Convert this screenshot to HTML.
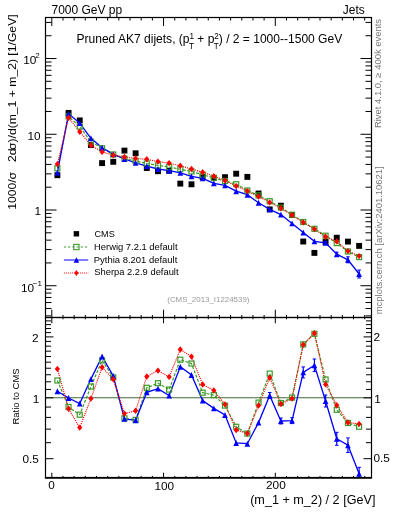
<!DOCTYPE html>
<html><head><meta charset="utf-8"><style>
html,body{margin:0;padding:0;background:#fff;width:393px;height:512px;overflow:hidden}
svg{display:block;will-change:transform}
text{font-family:"Liberation Sans",sans-serif}
</style></head><body>
<svg width="393" height="512" viewBox="0 0 393 512">
<rect width="393" height="512" fill="#fff"/>
<defs><clipPath id="cm"><rect x="45.5" y="17.5" width="326.0" height="300.0"/></clipPath><clipPath id="cr"><rect x="45.5" y="317.5" width="326.0" height="160.0"/></clipPath></defs>
<g clip-path="url(#cm)">
<rect x="54.44" y="172.25" width="5.90" height="5.90" fill="#000"/>
<rect x="65.61" y="109.95" width="5.90" height="5.90" fill="#000"/>
<rect x="76.79" y="117.45" width="5.90" height="5.90" fill="#000"/>
<rect x="87.96" y="142.05" width="5.90" height="5.90" fill="#000"/>
<rect x="99.14" y="160.15" width="5.90" height="5.90" fill="#000"/>
<rect x="110.31" y="158.85" width="5.90" height="5.90" fill="#000"/>
<rect x="121.49" y="147.65" width="5.90" height="5.90" fill="#000"/>
<rect x="132.66" y="150.35" width="5.90" height="5.90" fill="#000"/>
<rect x="143.84" y="165.05" width="5.90" height="5.90" fill="#000"/>
<rect x="155.01" y="168.25" width="5.90" height="5.90" fill="#000"/>
<rect x="166.19" y="167.75" width="5.90" height="5.90" fill="#000"/>
<rect x="177.36" y="180.65" width="5.90" height="5.90" fill="#000"/>
<rect x="188.54" y="181.35" width="5.90" height="5.90" fill="#000"/>
<rect x="199.71" y="174.05" width="5.90" height="5.90" fill="#000"/>
<rect x="210.89" y="174.85" width="5.90" height="5.90" fill="#000"/>
<rect x="222.06" y="174.25" width="5.90" height="5.90" fill="#000"/>
<rect x="233.24" y="170.75" width="5.90" height="5.90" fill="#000"/>
<rect x="244.41" y="173.95" width="5.90" height="5.90" fill="#000"/>
<rect x="255.59" y="190.55" width="5.90" height="5.90" fill="#000"/>
<rect x="266.76" y="206.45" width="5.90" height="5.90" fill="#000"/>
<rect x="277.94" y="202.75" width="5.90" height="5.90" fill="#000"/>
<rect x="289.11" y="212.05" width="5.90" height="5.90" fill="#000"/>
<rect x="300.29" y="238.55" width="5.90" height="5.90" fill="#000"/>
<rect x="311.46" y="249.95" width="5.90" height="5.90" fill="#000"/>
<rect x="322.64" y="239.05" width="5.90" height="5.90" fill="#000"/>
<rect x="333.81" y="234.75" width="5.90" height="5.90" fill="#000"/>
<rect x="344.99" y="238.65" width="5.90" height="5.90" fill="#000"/>
<rect x="356.16" y="242.95" width="5.90" height="5.90" fill="#000"/>
</g>
<g clip-path="url(#cm)">
<polyline points="57.39,168.30 68.56,116.40 79.74,126.60 90.91,141.70 102.09,148.30 113.26,154.50 124.44,158.60 135.61,161.00 146.79,163.50 157.96,165.40 169.14,167.10 180.31,169.20 191.49,171.50 202.66,174.70 213.84,178.00 225.01,181.00 236.19,184.20 247.36,190.50 258.54,195.40 269.71,201.20 280.89,207.60 292.06,214.70 303.24,222.00 314.41,228.80 325.59,235.70 336.76,243.10 347.94,251.50 359.11,257.10" fill="none" stroke="#3c9a2a" stroke-width="1.2" stroke-dasharray="3,1.6"/>
<polyline points="57.39,172.60 68.56,113.80 79.74,123.10 90.91,138.30 102.09,147.80 113.26,154.10 124.44,159.00 135.61,162.90 146.79,166.10 157.96,169.00 169.14,170.70 180.31,172.80 191.49,176.40 202.66,178.30 213.84,183.30 225.01,185.40 236.19,191.20 247.36,194.70 258.54,202.80 269.71,209.40 280.89,214.60 292.06,223.40 303.24,232.50 314.41,241.30 325.59,242.90 336.76,254.20 347.94,259.80 359.11,274.00" fill="none" stroke="#0000ff" stroke-width="1.3"/>
<polyline points="57.39,164.10 68.56,117.70 79.74,131.70 90.91,145.30 102.09,151.90 113.26,155.20 124.44,157.00 135.61,158.40 146.79,159.30 157.96,161.60 169.14,163.10 180.31,165.80 191.49,169.00 202.66,172.20 213.84,176.20 225.01,180.60 236.19,186.10 247.36,191.10 258.54,196.50 269.71,202.40 280.89,208.30 292.06,215.10 303.24,222.40 314.41,229.10 325.59,236.80 336.76,241.40 347.94,251.10 359.11,256.10" fill="none" stroke="#ff0000" stroke-width="1.15" stroke-dasharray="1.1,1"/>
<line x1="325.59" y1="241.40" x2="325.59" y2="244.40" stroke="#0000ff" stroke-width="1.2"/>
<line x1="323.79" y1="241.40" x2="327.39" y2="241.40" stroke="#0000ff" stroke-width="1"/>
<line x1="323.79" y1="244.40" x2="327.39" y2="244.40" stroke="#0000ff" stroke-width="1"/>
<line x1="336.76" y1="252.20" x2="336.76" y2="256.20" stroke="#0000ff" stroke-width="1.2"/>
<line x1="334.96" y1="252.20" x2="338.56" y2="252.20" stroke="#0000ff" stroke-width="1"/>
<line x1="334.96" y1="256.20" x2="338.56" y2="256.20" stroke="#0000ff" stroke-width="1"/>
<line x1="347.94" y1="256.80" x2="347.94" y2="262.80" stroke="#0000ff" stroke-width="1.2"/>
<line x1="346.14" y1="256.80" x2="349.74" y2="256.80" stroke="#0000ff" stroke-width="1"/>
<line x1="346.14" y1="262.80" x2="349.74" y2="262.80" stroke="#0000ff" stroke-width="1"/>
<line x1="359.11" y1="270.00" x2="359.11" y2="278.00" stroke="#0000ff" stroke-width="1.2"/>
<line x1="357.31" y1="270.00" x2="360.91" y2="270.00" stroke="#0000ff" stroke-width="1"/>
<line x1="357.31" y1="278.00" x2="360.91" y2="278.00" stroke="#0000ff" stroke-width="1"/>
<rect x="54.89" y="165.80" width="5.00" height="5.00" fill="none" stroke="#3c9a2a" stroke-width="1.2"/>
<rect x="66.06" y="113.90" width="5.00" height="5.00" fill="none" stroke="#3c9a2a" stroke-width="1.2"/>
<rect x="77.24" y="124.10" width="5.00" height="5.00" fill="none" stroke="#3c9a2a" stroke-width="1.2"/>
<rect x="88.41" y="139.20" width="5.00" height="5.00" fill="none" stroke="#3c9a2a" stroke-width="1.2"/>
<rect x="99.59" y="145.80" width="5.00" height="5.00" fill="none" stroke="#3c9a2a" stroke-width="1.2"/>
<rect x="110.76" y="152.00" width="5.00" height="5.00" fill="none" stroke="#3c9a2a" stroke-width="1.2"/>
<rect x="121.94" y="156.10" width="5.00" height="5.00" fill="none" stroke="#3c9a2a" stroke-width="1.2"/>
<rect x="133.11" y="158.50" width="5.00" height="5.00" fill="none" stroke="#3c9a2a" stroke-width="1.2"/>
<rect x="144.29" y="161.00" width="5.00" height="5.00" fill="none" stroke="#3c9a2a" stroke-width="1.2"/>
<rect x="155.46" y="162.90" width="5.00" height="5.00" fill="none" stroke="#3c9a2a" stroke-width="1.2"/>
<rect x="166.64" y="164.60" width="5.00" height="5.00" fill="none" stroke="#3c9a2a" stroke-width="1.2"/>
<rect x="177.81" y="166.70" width="5.00" height="5.00" fill="none" stroke="#3c9a2a" stroke-width="1.2"/>
<rect x="188.99" y="169.00" width="5.00" height="5.00" fill="none" stroke="#3c9a2a" stroke-width="1.2"/>
<rect x="200.16" y="172.20" width="5.00" height="5.00" fill="none" stroke="#3c9a2a" stroke-width="1.2"/>
<rect x="211.34" y="175.50" width="5.00" height="5.00" fill="none" stroke="#3c9a2a" stroke-width="1.2"/>
<rect x="222.51" y="178.50" width="5.00" height="5.00" fill="none" stroke="#3c9a2a" stroke-width="1.2"/>
<rect x="233.69" y="181.70" width="5.00" height="5.00" fill="none" stroke="#3c9a2a" stroke-width="1.2"/>
<rect x="244.86" y="188.00" width="5.00" height="5.00" fill="none" stroke="#3c9a2a" stroke-width="1.2"/>
<rect x="256.04" y="192.90" width="5.00" height="5.00" fill="none" stroke="#3c9a2a" stroke-width="1.2"/>
<rect x="267.21" y="198.70" width="5.00" height="5.00" fill="none" stroke="#3c9a2a" stroke-width="1.2"/>
<rect x="278.39" y="205.10" width="5.00" height="5.00" fill="none" stroke="#3c9a2a" stroke-width="1.2"/>
<rect x="289.56" y="212.20" width="5.00" height="5.00" fill="none" stroke="#3c9a2a" stroke-width="1.2"/>
<rect x="300.74" y="219.50" width="5.00" height="5.00" fill="none" stroke="#3c9a2a" stroke-width="1.2"/>
<rect x="311.91" y="226.30" width="5.00" height="5.00" fill="none" stroke="#3c9a2a" stroke-width="1.2"/>
<rect x="323.09" y="233.20" width="5.00" height="5.00" fill="none" stroke="#3c9a2a" stroke-width="1.2"/>
<rect x="334.26" y="240.60" width="5.00" height="5.00" fill="none" stroke="#3c9a2a" stroke-width="1.2"/>
<rect x="345.44" y="249.00" width="5.00" height="5.00" fill="none" stroke="#3c9a2a" stroke-width="1.2"/>
<rect x="356.61" y="254.60" width="5.00" height="5.00" fill="none" stroke="#3c9a2a" stroke-width="1.2"/>
<polygon points="54.59,175.55 60.19,175.55 57.39,169.65" fill="#0000ff"/>
<polygon points="65.76,116.75 71.36,116.75 68.56,110.85" fill="#0000ff"/>
<polygon points="76.94,126.05 82.54,126.05 79.74,120.15" fill="#0000ff"/>
<polygon points="88.11,141.25 93.71,141.25 90.91,135.35" fill="#0000ff"/>
<polygon points="99.29,150.75 104.89,150.75 102.09,144.85" fill="#0000ff"/>
<polygon points="110.46,157.05 116.06,157.05 113.26,151.15" fill="#0000ff"/>
<polygon points="121.64,161.95 127.24,161.95 124.44,156.05" fill="#0000ff"/>
<polygon points="132.81,165.85 138.41,165.85 135.61,159.95" fill="#0000ff"/>
<polygon points="143.99,169.05 149.59,169.05 146.79,163.15" fill="#0000ff"/>
<polygon points="155.16,171.95 160.76,171.95 157.96,166.05" fill="#0000ff"/>
<polygon points="166.34,173.65 171.94,173.65 169.14,167.75" fill="#0000ff"/>
<polygon points="177.51,175.75 183.11,175.75 180.31,169.85" fill="#0000ff"/>
<polygon points="188.69,179.35 194.29,179.35 191.49,173.45" fill="#0000ff"/>
<polygon points="199.86,181.25 205.46,181.25 202.66,175.35" fill="#0000ff"/>
<polygon points="211.04,186.25 216.64,186.25 213.84,180.35" fill="#0000ff"/>
<polygon points="222.21,188.35 227.81,188.35 225.01,182.45" fill="#0000ff"/>
<polygon points="233.39,194.15 238.99,194.15 236.19,188.25" fill="#0000ff"/>
<polygon points="244.56,197.65 250.16,197.65 247.36,191.75" fill="#0000ff"/>
<polygon points="255.74,205.75 261.34,205.75 258.54,199.85" fill="#0000ff"/>
<polygon points="266.91,212.35 272.51,212.35 269.71,206.45" fill="#0000ff"/>
<polygon points="278.09,217.55 283.69,217.55 280.89,211.65" fill="#0000ff"/>
<polygon points="289.26,226.35 294.86,226.35 292.06,220.45" fill="#0000ff"/>
<polygon points="300.44,235.45 306.04,235.45 303.24,229.55" fill="#0000ff"/>
<polygon points="311.61,244.25 317.21,244.25 314.41,238.35" fill="#0000ff"/>
<polygon points="322.79,245.85 328.39,245.85 325.59,239.95" fill="#0000ff"/>
<polygon points="333.96,257.15 339.56,257.15 336.76,251.25" fill="#0000ff"/>
<polygon points="345.14,262.75 350.74,262.75 347.94,256.85" fill="#0000ff"/>
<polygon points="356.31,276.95 361.91,276.95 359.11,271.05" fill="#0000ff"/>
<polygon points="57.39,160.90 59.99,164.10 57.39,167.30 54.79,164.10" fill="#ff0000"/>
<polygon points="68.56,114.50 71.16,117.70 68.56,120.90 65.96,117.70" fill="#ff0000"/>
<polygon points="79.74,128.50 82.34,131.70 79.74,134.90 77.14,131.70" fill="#ff0000"/>
<polygon points="90.91,142.10 93.51,145.30 90.91,148.50 88.31,145.30" fill="#ff0000"/>
<polygon points="102.09,148.70 104.69,151.90 102.09,155.10 99.49,151.90" fill="#ff0000"/>
<polygon points="113.26,152.00 115.86,155.20 113.26,158.40 110.66,155.20" fill="#ff0000"/>
<polygon points="124.44,153.80 127.04,157.00 124.44,160.20 121.84,157.00" fill="#ff0000"/>
<polygon points="135.61,155.20 138.21,158.40 135.61,161.60 133.01,158.40" fill="#ff0000"/>
<polygon points="146.79,156.10 149.39,159.30 146.79,162.50 144.19,159.30" fill="#ff0000"/>
<polygon points="157.96,158.40 160.56,161.60 157.96,164.80 155.36,161.60" fill="#ff0000"/>
<polygon points="169.14,159.90 171.74,163.10 169.14,166.30 166.54,163.10" fill="#ff0000"/>
<polygon points="180.31,162.60 182.91,165.80 180.31,169.00 177.71,165.80" fill="#ff0000"/>
<polygon points="191.49,165.80 194.09,169.00 191.49,172.20 188.89,169.00" fill="#ff0000"/>
<polygon points="202.66,169.00 205.26,172.20 202.66,175.40 200.06,172.20" fill="#ff0000"/>
<polygon points="213.84,173.00 216.44,176.20 213.84,179.40 211.24,176.20" fill="#ff0000"/>
<polygon points="225.01,177.40 227.61,180.60 225.01,183.80 222.41,180.60" fill="#ff0000"/>
<polygon points="236.19,182.90 238.79,186.10 236.19,189.30 233.59,186.10" fill="#ff0000"/>
<polygon points="247.36,187.90 249.96,191.10 247.36,194.30 244.76,191.10" fill="#ff0000"/>
<polygon points="258.54,193.30 261.14,196.50 258.54,199.70 255.94,196.50" fill="#ff0000"/>
<polygon points="269.71,199.20 272.31,202.40 269.71,205.60 267.11,202.40" fill="#ff0000"/>
<polygon points="280.89,205.10 283.49,208.30 280.89,211.50 278.29,208.30" fill="#ff0000"/>
<polygon points="292.06,211.90 294.66,215.10 292.06,218.30 289.46,215.10" fill="#ff0000"/>
<polygon points="303.24,219.20 305.84,222.40 303.24,225.60 300.64,222.40" fill="#ff0000"/>
<polygon points="314.41,225.90 317.01,229.10 314.41,232.30 311.81,229.10" fill="#ff0000"/>
<polygon points="325.59,233.60 328.19,236.80 325.59,240.00 322.99,236.80" fill="#ff0000"/>
<polygon points="336.76,238.20 339.36,241.40 336.76,244.60 334.16,241.40" fill="#ff0000"/>
<polygon points="347.94,247.90 350.54,251.10 347.94,254.30 345.34,251.10" fill="#ff0000"/>
<polygon points="359.11,252.90 361.71,256.10 359.11,259.30 356.51,256.10" fill="#ff0000"/>
</g>
<line x1="45.5" y1="397.80" x2="371.5" y2="397.80" stroke="#426a36" stroke-width="1.1"/>
<g clip-path="url(#cr)">
<polyline points="57.39,380.50 68.56,407.00 79.74,414.70 90.91,386.50 102.09,360.40 113.26,377.50 124.44,418.30 135.61,419.90 146.79,387.80 157.96,383.20 169.14,389.60 180.31,359.70 191.49,363.50 202.66,392.70 213.84,395.10 225.01,405.60 236.19,426.80 247.36,433.60 258.54,402.60 269.71,373.60 280.89,403.00 292.06,397.60 303.24,344.40 314.41,333.80 325.59,379.50 336.76,409.80 347.94,423.00 359.11,426.70" fill="none" stroke="#3c9a2a" stroke-width="1.2" stroke-dasharray="3,1.6"/>
<polyline points="57.39,391.20 68.56,398.00 79.74,403.50 90.91,379.10 102.09,356.50 113.26,375.90 124.44,418.90 135.61,420.30 146.79,392.30 157.96,388.60 169.14,395.50 180.31,366.70 191.49,375.00 202.66,400.50 213.84,408.40 225.01,415.00 236.19,443.00 247.36,443.70 258.54,422.60 269.71,395.50 280.89,421.00 292.06,420.60 303.24,372.40 314.41,365.30 325.59,401.00 336.76,438.80 347.94,445.20 359.11,473.80" fill="none" stroke="#0000ff" stroke-width="1.3"/>
<polyline points="57.39,368.90 68.56,408.80 79.74,427.60 90.91,398.60 102.09,367.20 113.26,379.20 124.44,413.60 135.61,410.70 146.79,376.50 157.96,370.60 169.14,376.90 180.31,349.50 191.49,356.60 202.66,384.50 213.84,390.40 225.01,404.40 236.19,430.00 247.36,433.50 258.54,405.60 269.71,377.70 280.89,404.00 292.06,398.60 303.24,344.70 314.41,333.20 325.59,384.40 336.76,405.20 347.94,422.50 359.11,423.90" fill="none" stroke="#ff0000" stroke-width="1.15" stroke-dasharray="1.1,1"/>
<line x1="269.71" y1="392.50" x2="269.71" y2="398.50" stroke="#0000ff" stroke-width="1.2"/>
<line x1="267.91" y1="392.50" x2="271.51" y2="392.50" stroke="#0000ff" stroke-width="1"/>
<line x1="267.91" y1="398.50" x2="271.51" y2="398.50" stroke="#0000ff" stroke-width="1"/>
<line x1="280.89" y1="418.00" x2="280.89" y2="424.00" stroke="#0000ff" stroke-width="1.2"/>
<line x1="279.09" y1="418.00" x2="282.69" y2="418.00" stroke="#0000ff" stroke-width="1"/>
<line x1="279.09" y1="424.00" x2="282.69" y2="424.00" stroke="#0000ff" stroke-width="1"/>
<line x1="292.06" y1="417.60" x2="292.06" y2="423.60" stroke="#0000ff" stroke-width="1.2"/>
<line x1="290.26" y1="417.60" x2="293.86" y2="417.60" stroke="#0000ff" stroke-width="1"/>
<line x1="290.26" y1="423.60" x2="293.86" y2="423.60" stroke="#0000ff" stroke-width="1"/>
<line x1="303.24" y1="366.90" x2="303.24" y2="377.90" stroke="#0000ff" stroke-width="1.2"/>
<line x1="301.44" y1="366.90" x2="305.04" y2="366.90" stroke="#0000ff" stroke-width="1"/>
<line x1="301.44" y1="377.90" x2="305.04" y2="377.90" stroke="#0000ff" stroke-width="1"/>
<line x1="314.41" y1="359.00" x2="314.41" y2="371.60" stroke="#0000ff" stroke-width="1.2"/>
<line x1="312.61" y1="359.00" x2="316.21" y2="359.00" stroke="#0000ff" stroke-width="1"/>
<line x1="312.61" y1="371.60" x2="316.21" y2="371.60" stroke="#0000ff" stroke-width="1"/>
<line x1="325.59" y1="395.00" x2="325.59" y2="407.00" stroke="#0000ff" stroke-width="1.2"/>
<line x1="323.79" y1="395.00" x2="327.39" y2="395.00" stroke="#0000ff" stroke-width="1"/>
<line x1="323.79" y1="407.00" x2="327.39" y2="407.00" stroke="#0000ff" stroke-width="1"/>
<line x1="336.76" y1="432.30" x2="336.76" y2="445.30" stroke="#0000ff" stroke-width="1.2"/>
<line x1="334.96" y1="432.30" x2="338.56" y2="432.30" stroke="#0000ff" stroke-width="1"/>
<line x1="334.96" y1="445.30" x2="338.56" y2="445.30" stroke="#0000ff" stroke-width="1"/>
<line x1="347.94" y1="437.90" x2="347.94" y2="452.50" stroke="#0000ff" stroke-width="1.2"/>
<line x1="346.14" y1="437.90" x2="349.74" y2="437.90" stroke="#0000ff" stroke-width="1"/>
<line x1="346.14" y1="452.50" x2="349.74" y2="452.50" stroke="#0000ff" stroke-width="1"/>
<line x1="359.11" y1="467.30" x2="359.11" y2="480.30" stroke="#0000ff" stroke-width="1.2"/>
<line x1="357.31" y1="467.30" x2="360.91" y2="467.30" stroke="#0000ff" stroke-width="1"/>
<line x1="357.31" y1="480.30" x2="360.91" y2="480.30" stroke="#0000ff" stroke-width="1"/>
<rect x="54.89" y="378.00" width="5.00" height="5.00" fill="none" stroke="#3c9a2a" stroke-width="1.2"/>
<rect x="66.06" y="404.50" width="5.00" height="5.00" fill="none" stroke="#3c9a2a" stroke-width="1.2"/>
<rect x="77.24" y="412.20" width="5.00" height="5.00" fill="none" stroke="#3c9a2a" stroke-width="1.2"/>
<rect x="88.41" y="384.00" width="5.00" height="5.00" fill="none" stroke="#3c9a2a" stroke-width="1.2"/>
<rect x="99.59" y="357.90" width="5.00" height="5.00" fill="none" stroke="#3c9a2a" stroke-width="1.2"/>
<rect x="110.76" y="375.00" width="5.00" height="5.00" fill="none" stroke="#3c9a2a" stroke-width="1.2"/>
<rect x="121.94" y="415.80" width="5.00" height="5.00" fill="none" stroke="#3c9a2a" stroke-width="1.2"/>
<rect x="133.11" y="417.40" width="5.00" height="5.00" fill="none" stroke="#3c9a2a" stroke-width="1.2"/>
<rect x="144.29" y="385.30" width="5.00" height="5.00" fill="none" stroke="#3c9a2a" stroke-width="1.2"/>
<rect x="155.46" y="380.70" width="5.00" height="5.00" fill="none" stroke="#3c9a2a" stroke-width="1.2"/>
<rect x="166.64" y="387.10" width="5.00" height="5.00" fill="none" stroke="#3c9a2a" stroke-width="1.2"/>
<rect x="177.81" y="357.20" width="5.00" height="5.00" fill="none" stroke="#3c9a2a" stroke-width="1.2"/>
<rect x="188.99" y="361.00" width="5.00" height="5.00" fill="none" stroke="#3c9a2a" stroke-width="1.2"/>
<rect x="200.16" y="390.20" width="5.00" height="5.00" fill="none" stroke="#3c9a2a" stroke-width="1.2"/>
<rect x="211.34" y="392.60" width="5.00" height="5.00" fill="none" stroke="#3c9a2a" stroke-width="1.2"/>
<rect x="222.51" y="403.10" width="5.00" height="5.00" fill="none" stroke="#3c9a2a" stroke-width="1.2"/>
<rect x="233.69" y="424.30" width="5.00" height="5.00" fill="none" stroke="#3c9a2a" stroke-width="1.2"/>
<rect x="244.86" y="431.10" width="5.00" height="5.00" fill="none" stroke="#3c9a2a" stroke-width="1.2"/>
<rect x="256.04" y="400.10" width="5.00" height="5.00" fill="none" stroke="#3c9a2a" stroke-width="1.2"/>
<rect x="267.21" y="371.10" width="5.00" height="5.00" fill="none" stroke="#3c9a2a" stroke-width="1.2"/>
<rect x="278.39" y="400.50" width="5.00" height="5.00" fill="none" stroke="#3c9a2a" stroke-width="1.2"/>
<rect x="289.56" y="395.10" width="5.00" height="5.00" fill="none" stroke="#3c9a2a" stroke-width="1.2"/>
<rect x="300.74" y="341.90" width="5.00" height="5.00" fill="none" stroke="#3c9a2a" stroke-width="1.2"/>
<rect x="311.91" y="331.30" width="5.00" height="5.00" fill="none" stroke="#3c9a2a" stroke-width="1.2"/>
<rect x="323.09" y="377.00" width="5.00" height="5.00" fill="none" stroke="#3c9a2a" stroke-width="1.2"/>
<rect x="334.26" y="407.30" width="5.00" height="5.00" fill="none" stroke="#3c9a2a" stroke-width="1.2"/>
<rect x="345.44" y="420.50" width="5.00" height="5.00" fill="none" stroke="#3c9a2a" stroke-width="1.2"/>
<rect x="356.61" y="424.20" width="5.00" height="5.00" fill="none" stroke="#3c9a2a" stroke-width="1.2"/>
<polygon points="54.59,394.15 60.19,394.15 57.39,388.25" fill="#0000ff"/>
<polygon points="65.76,400.95 71.36,400.95 68.56,395.05" fill="#0000ff"/>
<polygon points="76.94,406.45 82.54,406.45 79.74,400.55" fill="#0000ff"/>
<polygon points="88.11,382.05 93.71,382.05 90.91,376.15" fill="#0000ff"/>
<polygon points="99.29,359.45 104.89,359.45 102.09,353.55" fill="#0000ff"/>
<polygon points="110.46,378.85 116.06,378.85 113.26,372.95" fill="#0000ff"/>
<polygon points="121.64,421.85 127.24,421.85 124.44,415.95" fill="#0000ff"/>
<polygon points="132.81,423.25 138.41,423.25 135.61,417.35" fill="#0000ff"/>
<polygon points="143.99,395.25 149.59,395.25 146.79,389.35" fill="#0000ff"/>
<polygon points="155.16,391.55 160.76,391.55 157.96,385.65" fill="#0000ff"/>
<polygon points="166.34,398.45 171.94,398.45 169.14,392.55" fill="#0000ff"/>
<polygon points="177.51,369.65 183.11,369.65 180.31,363.75" fill="#0000ff"/>
<polygon points="188.69,377.95 194.29,377.95 191.49,372.05" fill="#0000ff"/>
<polygon points="199.86,403.45 205.46,403.45 202.66,397.55" fill="#0000ff"/>
<polygon points="211.04,411.35 216.64,411.35 213.84,405.45" fill="#0000ff"/>
<polygon points="222.21,417.95 227.81,417.95 225.01,412.05" fill="#0000ff"/>
<polygon points="233.39,445.95 238.99,445.95 236.19,440.05" fill="#0000ff"/>
<polygon points="244.56,446.65 250.16,446.65 247.36,440.75" fill="#0000ff"/>
<polygon points="255.74,425.55 261.34,425.55 258.54,419.65" fill="#0000ff"/>
<polygon points="266.91,398.45 272.51,398.45 269.71,392.55" fill="#0000ff"/>
<polygon points="278.09,423.95 283.69,423.95 280.89,418.05" fill="#0000ff"/>
<polygon points="289.26,423.55 294.86,423.55 292.06,417.65" fill="#0000ff"/>
<polygon points="300.44,375.35 306.04,375.35 303.24,369.45" fill="#0000ff"/>
<polygon points="311.61,368.25 317.21,368.25 314.41,362.35" fill="#0000ff"/>
<polygon points="322.79,403.95 328.39,403.95 325.59,398.05" fill="#0000ff"/>
<polygon points="333.96,441.75 339.56,441.75 336.76,435.85" fill="#0000ff"/>
<polygon points="345.14,448.15 350.74,448.15 347.94,442.25" fill="#0000ff"/>
<polygon points="356.31,476.75 361.91,476.75 359.11,470.85" fill="#0000ff"/>
<polygon points="57.39,365.70 59.99,368.90 57.39,372.10 54.79,368.90" fill="#ff0000"/>
<polygon points="68.56,405.60 71.16,408.80 68.56,412.00 65.96,408.80" fill="#ff0000"/>
<polygon points="79.74,424.40 82.34,427.60 79.74,430.80 77.14,427.60" fill="#ff0000"/>
<polygon points="90.91,395.40 93.51,398.60 90.91,401.80 88.31,398.60" fill="#ff0000"/>
<polygon points="102.09,364.00 104.69,367.20 102.09,370.40 99.49,367.20" fill="#ff0000"/>
<polygon points="113.26,376.00 115.86,379.20 113.26,382.40 110.66,379.20" fill="#ff0000"/>
<polygon points="124.44,410.40 127.04,413.60 124.44,416.80 121.84,413.60" fill="#ff0000"/>
<polygon points="135.61,407.50 138.21,410.70 135.61,413.90 133.01,410.70" fill="#ff0000"/>
<polygon points="146.79,373.30 149.39,376.50 146.79,379.70 144.19,376.50" fill="#ff0000"/>
<polygon points="157.96,367.40 160.56,370.60 157.96,373.80 155.36,370.60" fill="#ff0000"/>
<polygon points="169.14,373.70 171.74,376.90 169.14,380.10 166.54,376.90" fill="#ff0000"/>
<polygon points="180.31,346.30 182.91,349.50 180.31,352.70 177.71,349.50" fill="#ff0000"/>
<polygon points="191.49,353.40 194.09,356.60 191.49,359.80 188.89,356.60" fill="#ff0000"/>
<polygon points="202.66,381.30 205.26,384.50 202.66,387.70 200.06,384.50" fill="#ff0000"/>
<polygon points="213.84,387.20 216.44,390.40 213.84,393.60 211.24,390.40" fill="#ff0000"/>
<polygon points="225.01,401.20 227.61,404.40 225.01,407.60 222.41,404.40" fill="#ff0000"/>
<polygon points="236.19,426.80 238.79,430.00 236.19,433.20 233.59,430.00" fill="#ff0000"/>
<polygon points="247.36,430.30 249.96,433.50 247.36,436.70 244.76,433.50" fill="#ff0000"/>
<polygon points="258.54,402.40 261.14,405.60 258.54,408.80 255.94,405.60" fill="#ff0000"/>
<polygon points="269.71,374.50 272.31,377.70 269.71,380.90 267.11,377.70" fill="#ff0000"/>
<polygon points="280.89,400.80 283.49,404.00 280.89,407.20 278.29,404.00" fill="#ff0000"/>
<polygon points="292.06,395.40 294.66,398.60 292.06,401.80 289.46,398.60" fill="#ff0000"/>
<polygon points="303.24,341.50 305.84,344.70 303.24,347.90 300.64,344.70" fill="#ff0000"/>
<polygon points="314.41,330.00 317.01,333.20 314.41,336.40 311.81,333.20" fill="#ff0000"/>
<polygon points="325.59,381.20 328.19,384.40 325.59,387.60 322.99,384.40" fill="#ff0000"/>
<polygon points="336.76,402.00 339.36,405.20 336.76,408.40 334.16,405.20" fill="#ff0000"/>
<polygon points="347.94,419.30 350.54,422.50 347.94,425.70 345.34,422.50" fill="#ff0000"/>
<polygon points="359.11,420.70 361.71,423.90 359.11,427.10 356.51,423.90" fill="#ff0000"/>
</g>
<line x1="45.50" y1="315.87" x2="51.50" y2="315.87" stroke="#000" stroke-width="1.0"/>
<line x1="371.50" y1="315.87" x2="365.50" y2="315.87" stroke="#000" stroke-width="1.0"/>
<line x1="45.50" y1="308.53" x2="51.50" y2="308.53" stroke="#000" stroke-width="1.0"/>
<line x1="371.50" y1="308.53" x2="365.50" y2="308.53" stroke="#000" stroke-width="1.0"/>
<line x1="45.50" y1="302.53" x2="51.50" y2="302.53" stroke="#000" stroke-width="1.0"/>
<line x1="371.50" y1="302.53" x2="365.50" y2="302.53" stroke="#000" stroke-width="1.0"/>
<line x1="45.50" y1="297.46" x2="51.50" y2="297.46" stroke="#000" stroke-width="1.0"/>
<line x1="371.50" y1="297.46" x2="365.50" y2="297.46" stroke="#000" stroke-width="1.0"/>
<line x1="45.50" y1="293.07" x2="51.50" y2="293.07" stroke="#000" stroke-width="1.0"/>
<line x1="371.50" y1="293.07" x2="365.50" y2="293.07" stroke="#000" stroke-width="1.0"/>
<line x1="45.50" y1="289.20" x2="51.50" y2="289.20" stroke="#000" stroke-width="1.0"/>
<line x1="371.50" y1="289.20" x2="365.50" y2="289.20" stroke="#000" stroke-width="1.0"/>
<line x1="45.50" y1="285.73" x2="56.50" y2="285.73" stroke="#000" stroke-width="1.0"/>
<line x1="371.50" y1="285.73" x2="360.50" y2="285.73" stroke="#000" stroke-width="1.0"/>
<line x1="45.50" y1="262.93" x2="51.50" y2="262.93" stroke="#000" stroke-width="1.0"/>
<line x1="371.50" y1="262.93" x2="365.50" y2="262.93" stroke="#000" stroke-width="1.0"/>
<line x1="45.50" y1="249.60" x2="51.50" y2="249.60" stroke="#000" stroke-width="1.0"/>
<line x1="371.50" y1="249.60" x2="365.50" y2="249.60" stroke="#000" stroke-width="1.0"/>
<line x1="45.50" y1="240.14" x2="51.50" y2="240.14" stroke="#000" stroke-width="1.0"/>
<line x1="371.50" y1="240.14" x2="365.50" y2="240.14" stroke="#000" stroke-width="1.0"/>
<line x1="45.50" y1="232.80" x2="51.50" y2="232.80" stroke="#000" stroke-width="1.0"/>
<line x1="371.50" y1="232.80" x2="365.50" y2="232.80" stroke="#000" stroke-width="1.0"/>
<line x1="45.50" y1="226.80" x2="51.50" y2="226.80" stroke="#000" stroke-width="1.0"/>
<line x1="371.50" y1="226.80" x2="365.50" y2="226.80" stroke="#000" stroke-width="1.0"/>
<line x1="45.50" y1="221.73" x2="51.50" y2="221.73" stroke="#000" stroke-width="1.0"/>
<line x1="371.50" y1="221.73" x2="365.50" y2="221.73" stroke="#000" stroke-width="1.0"/>
<line x1="45.50" y1="217.34" x2="51.50" y2="217.34" stroke="#000" stroke-width="1.0"/>
<line x1="371.50" y1="217.34" x2="365.50" y2="217.34" stroke="#000" stroke-width="1.0"/>
<line x1="45.50" y1="213.47" x2="51.50" y2="213.47" stroke="#000" stroke-width="1.0"/>
<line x1="371.50" y1="213.47" x2="365.50" y2="213.47" stroke="#000" stroke-width="1.0"/>
<line x1="45.50" y1="210.00" x2="56.50" y2="210.00" stroke="#000" stroke-width="1.0"/>
<line x1="371.50" y1="210.00" x2="360.50" y2="210.00" stroke="#000" stroke-width="1.0"/>
<line x1="45.50" y1="187.20" x2="51.50" y2="187.20" stroke="#000" stroke-width="1.0"/>
<line x1="371.50" y1="187.20" x2="365.50" y2="187.20" stroke="#000" stroke-width="1.0"/>
<line x1="45.50" y1="173.87" x2="51.50" y2="173.87" stroke="#000" stroke-width="1.0"/>
<line x1="371.50" y1="173.87" x2="365.50" y2="173.87" stroke="#000" stroke-width="1.0"/>
<line x1="45.50" y1="164.41" x2="51.50" y2="164.41" stroke="#000" stroke-width="1.0"/>
<line x1="371.50" y1="164.41" x2="365.50" y2="164.41" stroke="#000" stroke-width="1.0"/>
<line x1="45.50" y1="157.07" x2="51.50" y2="157.07" stroke="#000" stroke-width="1.0"/>
<line x1="371.50" y1="157.07" x2="365.50" y2="157.07" stroke="#000" stroke-width="1.0"/>
<line x1="45.50" y1="151.07" x2="51.50" y2="151.07" stroke="#000" stroke-width="1.0"/>
<line x1="371.50" y1="151.07" x2="365.50" y2="151.07" stroke="#000" stroke-width="1.0"/>
<line x1="45.50" y1="146.00" x2="51.50" y2="146.00" stroke="#000" stroke-width="1.0"/>
<line x1="371.50" y1="146.00" x2="365.50" y2="146.00" stroke="#000" stroke-width="1.0"/>
<line x1="45.50" y1="141.61" x2="51.50" y2="141.61" stroke="#000" stroke-width="1.0"/>
<line x1="371.50" y1="141.61" x2="365.50" y2="141.61" stroke="#000" stroke-width="1.0"/>
<line x1="45.50" y1="137.74" x2="51.50" y2="137.74" stroke="#000" stroke-width="1.0"/>
<line x1="371.50" y1="137.74" x2="365.50" y2="137.74" stroke="#000" stroke-width="1.0"/>
<line x1="45.50" y1="134.27" x2="56.50" y2="134.27" stroke="#000" stroke-width="1.0"/>
<line x1="371.50" y1="134.27" x2="360.50" y2="134.27" stroke="#000" stroke-width="1.0"/>
<line x1="45.50" y1="111.47" x2="51.50" y2="111.47" stroke="#000" stroke-width="1.0"/>
<line x1="371.50" y1="111.47" x2="365.50" y2="111.47" stroke="#000" stroke-width="1.0"/>
<line x1="45.50" y1="98.14" x2="51.50" y2="98.14" stroke="#000" stroke-width="1.0"/>
<line x1="371.50" y1="98.14" x2="365.50" y2="98.14" stroke="#000" stroke-width="1.0"/>
<line x1="45.50" y1="88.68" x2="51.50" y2="88.68" stroke="#000" stroke-width="1.0"/>
<line x1="371.50" y1="88.68" x2="365.50" y2="88.68" stroke="#000" stroke-width="1.0"/>
<line x1="45.50" y1="81.34" x2="51.50" y2="81.34" stroke="#000" stroke-width="1.0"/>
<line x1="371.50" y1="81.34" x2="365.50" y2="81.34" stroke="#000" stroke-width="1.0"/>
<line x1="45.50" y1="75.34" x2="51.50" y2="75.34" stroke="#000" stroke-width="1.0"/>
<line x1="371.50" y1="75.34" x2="365.50" y2="75.34" stroke="#000" stroke-width="1.0"/>
<line x1="45.50" y1="70.27" x2="51.50" y2="70.27" stroke="#000" stroke-width="1.0"/>
<line x1="371.50" y1="70.27" x2="365.50" y2="70.27" stroke="#000" stroke-width="1.0"/>
<line x1="45.50" y1="65.88" x2="51.50" y2="65.88" stroke="#000" stroke-width="1.0"/>
<line x1="371.50" y1="65.88" x2="365.50" y2="65.88" stroke="#000" stroke-width="1.0"/>
<line x1="45.50" y1="62.01" x2="51.50" y2="62.01" stroke="#000" stroke-width="1.0"/>
<line x1="371.50" y1="62.01" x2="365.50" y2="62.01" stroke="#000" stroke-width="1.0"/>
<line x1="45.50" y1="58.54" x2="56.50" y2="58.54" stroke="#000" stroke-width="1.0"/>
<line x1="371.50" y1="58.54" x2="360.50" y2="58.54" stroke="#000" stroke-width="1.0"/>
<line x1="45.50" y1="35.74" x2="51.50" y2="35.74" stroke="#000" stroke-width="1.0"/>
<line x1="371.50" y1="35.74" x2="365.50" y2="35.74" stroke="#000" stroke-width="1.0"/>
<line x1="45.50" y1="22.41" x2="51.50" y2="22.41" stroke="#000" stroke-width="1.0"/>
<line x1="371.50" y1="22.41" x2="365.50" y2="22.41" stroke="#000" stroke-width="1.0"/>
<line x1="45.50" y1="458.70" x2="53.50" y2="458.70" stroke="#000" stroke-width="1.0"/>
<line x1="371.50" y1="458.70" x2="363.50" y2="458.70" stroke="#000" stroke-width="1.0"/>
<line x1="45.50" y1="442.68" x2="51.00" y2="442.68" stroke="#000" stroke-width="1.0"/>
<line x1="371.50" y1="442.68" x2="366.00" y2="442.68" stroke="#000" stroke-width="1.0"/>
<line x1="45.50" y1="429.14" x2="51.00" y2="429.14" stroke="#000" stroke-width="1.0"/>
<line x1="371.50" y1="429.14" x2="366.00" y2="429.14" stroke="#000" stroke-width="1.0"/>
<line x1="45.50" y1="417.40" x2="51.00" y2="417.40" stroke="#000" stroke-width="1.0"/>
<line x1="371.50" y1="417.40" x2="366.00" y2="417.40" stroke="#000" stroke-width="1.0"/>
<line x1="45.50" y1="407.06" x2="51.00" y2="407.06" stroke="#000" stroke-width="1.0"/>
<line x1="371.50" y1="407.06" x2="366.00" y2="407.06" stroke="#000" stroke-width="1.0"/>
<line x1="45.50" y1="397.80" x2="53.50" y2="397.80" stroke="#000" stroke-width="1.0"/>
<line x1="371.50" y1="397.80" x2="363.50" y2="397.80" stroke="#000" stroke-width="1.0"/>
<line x1="45.50" y1="389.43" x2="51.00" y2="389.43" stroke="#000" stroke-width="1.0"/>
<line x1="371.50" y1="389.43" x2="366.00" y2="389.43" stroke="#000" stroke-width="1.0"/>
<line x1="45.50" y1="381.78" x2="51.00" y2="381.78" stroke="#000" stroke-width="1.0"/>
<line x1="371.50" y1="381.78" x2="366.00" y2="381.78" stroke="#000" stroke-width="1.0"/>
<line x1="45.50" y1="374.75" x2="51.00" y2="374.75" stroke="#000" stroke-width="1.0"/>
<line x1="371.50" y1="374.75" x2="366.00" y2="374.75" stroke="#000" stroke-width="1.0"/>
<line x1="45.50" y1="368.24" x2="51.00" y2="368.24" stroke="#000" stroke-width="1.0"/>
<line x1="371.50" y1="368.24" x2="366.00" y2="368.24" stroke="#000" stroke-width="1.0"/>
<line x1="45.50" y1="362.18" x2="51.00" y2="362.18" stroke="#000" stroke-width="1.0"/>
<line x1="371.50" y1="362.18" x2="366.00" y2="362.18" stroke="#000" stroke-width="1.0"/>
<line x1="45.50" y1="356.51" x2="51.00" y2="356.51" stroke="#000" stroke-width="1.0"/>
<line x1="371.50" y1="356.51" x2="366.00" y2="356.51" stroke="#000" stroke-width="1.0"/>
<line x1="45.50" y1="351.18" x2="51.00" y2="351.18" stroke="#000" stroke-width="1.0"/>
<line x1="371.50" y1="351.18" x2="366.00" y2="351.18" stroke="#000" stroke-width="1.0"/>
<line x1="45.50" y1="346.16" x2="51.00" y2="346.16" stroke="#000" stroke-width="1.0"/>
<line x1="371.50" y1="346.16" x2="366.00" y2="346.16" stroke="#000" stroke-width="1.0"/>
<line x1="45.50" y1="341.41" x2="51.00" y2="341.41" stroke="#000" stroke-width="1.0"/>
<line x1="371.50" y1="341.41" x2="366.00" y2="341.41" stroke="#000" stroke-width="1.0"/>
<line x1="45.50" y1="336.90" x2="53.50" y2="336.90" stroke="#000" stroke-width="1.0"/>
<line x1="371.50" y1="336.90" x2="363.50" y2="336.90" stroke="#000" stroke-width="1.0"/>
<line x1="45.50" y1="332.62" x2="51.00" y2="332.62" stroke="#000" stroke-width="1.0"/>
<line x1="371.50" y1="332.62" x2="366.00" y2="332.62" stroke="#000" stroke-width="1.0"/>
<line x1="45.50" y1="328.53" x2="51.00" y2="328.53" stroke="#000" stroke-width="1.0"/>
<line x1="371.50" y1="328.53" x2="366.00" y2="328.53" stroke="#000" stroke-width="1.0"/>
<line x1="45.50" y1="324.62" x2="51.00" y2="324.62" stroke="#000" stroke-width="1.0"/>
<line x1="371.50" y1="324.62" x2="366.00" y2="324.62" stroke="#000" stroke-width="1.0"/>
<line x1="45.50" y1="320.88" x2="51.00" y2="320.88" stroke="#000" stroke-width="1.0"/>
<line x1="371.50" y1="320.88" x2="366.00" y2="320.88" stroke="#000" stroke-width="1.0"/>
<line x1="51.80" y1="17.50" x2="51.80" y2="26.00" stroke="#000" stroke-width="1.0"/>
<line x1="51.80" y1="317.50" x2="51.80" y2="309.70" stroke="#000" stroke-width="1.0"/>
<line x1="51.80" y1="317.50" x2="51.80" y2="323.30" stroke="#000" stroke-width="1.0"/>
<line x1="51.80" y1="477.50" x2="51.80" y2="472.70" stroke="#000" stroke-width="1.0"/>
<line x1="62.97" y1="17.50" x2="62.97" y2="20.50" stroke="#000" stroke-width="1.0"/>
<line x1="62.97" y1="317.50" x2="62.97" y2="315.00" stroke="#000" stroke-width="1.0"/>
<line x1="62.97" y1="317.50" x2="62.97" y2="319.30" stroke="#000" stroke-width="1.0"/>
<line x1="62.97" y1="477.50" x2="62.97" y2="475.90" stroke="#000" stroke-width="1.0"/>
<line x1="74.15" y1="17.50" x2="74.15" y2="20.50" stroke="#000" stroke-width="1.0"/>
<line x1="74.15" y1="317.50" x2="74.15" y2="315.00" stroke="#000" stroke-width="1.0"/>
<line x1="74.15" y1="317.50" x2="74.15" y2="319.30" stroke="#000" stroke-width="1.0"/>
<line x1="74.15" y1="477.50" x2="74.15" y2="475.90" stroke="#000" stroke-width="1.0"/>
<line x1="85.32" y1="17.50" x2="85.32" y2="20.50" stroke="#000" stroke-width="1.0"/>
<line x1="85.32" y1="317.50" x2="85.32" y2="315.00" stroke="#000" stroke-width="1.0"/>
<line x1="85.32" y1="317.50" x2="85.32" y2="319.30" stroke="#000" stroke-width="1.0"/>
<line x1="85.32" y1="477.50" x2="85.32" y2="475.90" stroke="#000" stroke-width="1.0"/>
<line x1="96.50" y1="17.50" x2="96.50" y2="20.50" stroke="#000" stroke-width="1.0"/>
<line x1="96.50" y1="317.50" x2="96.50" y2="315.00" stroke="#000" stroke-width="1.0"/>
<line x1="96.50" y1="317.50" x2="96.50" y2="319.30" stroke="#000" stroke-width="1.0"/>
<line x1="96.50" y1="477.50" x2="96.50" y2="475.90" stroke="#000" stroke-width="1.0"/>
<line x1="107.67" y1="17.50" x2="107.67" y2="20.50" stroke="#000" stroke-width="1.0"/>
<line x1="107.67" y1="317.50" x2="107.67" y2="315.00" stroke="#000" stroke-width="1.0"/>
<line x1="107.67" y1="317.50" x2="107.67" y2="319.30" stroke="#000" stroke-width="1.0"/>
<line x1="107.67" y1="477.50" x2="107.67" y2="475.90" stroke="#000" stroke-width="1.0"/>
<line x1="118.85" y1="17.50" x2="118.85" y2="20.50" stroke="#000" stroke-width="1.0"/>
<line x1="118.85" y1="317.50" x2="118.85" y2="315.00" stroke="#000" stroke-width="1.0"/>
<line x1="118.85" y1="317.50" x2="118.85" y2="319.30" stroke="#000" stroke-width="1.0"/>
<line x1="118.85" y1="477.50" x2="118.85" y2="475.90" stroke="#000" stroke-width="1.0"/>
<line x1="130.02" y1="17.50" x2="130.02" y2="20.50" stroke="#000" stroke-width="1.0"/>
<line x1="130.02" y1="317.50" x2="130.02" y2="315.00" stroke="#000" stroke-width="1.0"/>
<line x1="130.02" y1="317.50" x2="130.02" y2="319.30" stroke="#000" stroke-width="1.0"/>
<line x1="130.02" y1="477.50" x2="130.02" y2="475.90" stroke="#000" stroke-width="1.0"/>
<line x1="141.20" y1="17.50" x2="141.20" y2="20.50" stroke="#000" stroke-width="1.0"/>
<line x1="141.20" y1="317.50" x2="141.20" y2="315.00" stroke="#000" stroke-width="1.0"/>
<line x1="141.20" y1="317.50" x2="141.20" y2="319.30" stroke="#000" stroke-width="1.0"/>
<line x1="141.20" y1="477.50" x2="141.20" y2="475.90" stroke="#000" stroke-width="1.0"/>
<line x1="152.38" y1="17.50" x2="152.38" y2="20.50" stroke="#000" stroke-width="1.0"/>
<line x1="152.38" y1="317.50" x2="152.38" y2="315.00" stroke="#000" stroke-width="1.0"/>
<line x1="152.38" y1="317.50" x2="152.38" y2="319.30" stroke="#000" stroke-width="1.0"/>
<line x1="152.38" y1="477.50" x2="152.38" y2="475.90" stroke="#000" stroke-width="1.0"/>
<line x1="163.55" y1="17.50" x2="163.55" y2="26.00" stroke="#000" stroke-width="1.0"/>
<line x1="163.55" y1="317.50" x2="163.55" y2="309.70" stroke="#000" stroke-width="1.0"/>
<line x1="163.55" y1="317.50" x2="163.55" y2="323.30" stroke="#000" stroke-width="1.0"/>
<line x1="163.55" y1="477.50" x2="163.55" y2="472.70" stroke="#000" stroke-width="1.0"/>
<line x1="174.72" y1="17.50" x2="174.72" y2="20.50" stroke="#000" stroke-width="1.0"/>
<line x1="174.72" y1="317.50" x2="174.72" y2="315.00" stroke="#000" stroke-width="1.0"/>
<line x1="174.72" y1="317.50" x2="174.72" y2="319.30" stroke="#000" stroke-width="1.0"/>
<line x1="174.72" y1="477.50" x2="174.72" y2="475.90" stroke="#000" stroke-width="1.0"/>
<line x1="185.90" y1="17.50" x2="185.90" y2="20.50" stroke="#000" stroke-width="1.0"/>
<line x1="185.90" y1="317.50" x2="185.90" y2="315.00" stroke="#000" stroke-width="1.0"/>
<line x1="185.90" y1="317.50" x2="185.90" y2="319.30" stroke="#000" stroke-width="1.0"/>
<line x1="185.90" y1="477.50" x2="185.90" y2="475.90" stroke="#000" stroke-width="1.0"/>
<line x1="197.07" y1="17.50" x2="197.07" y2="20.50" stroke="#000" stroke-width="1.0"/>
<line x1="197.07" y1="317.50" x2="197.07" y2="315.00" stroke="#000" stroke-width="1.0"/>
<line x1="197.07" y1="317.50" x2="197.07" y2="319.30" stroke="#000" stroke-width="1.0"/>
<line x1="197.07" y1="477.50" x2="197.07" y2="475.90" stroke="#000" stroke-width="1.0"/>
<line x1="208.25" y1="17.50" x2="208.25" y2="20.50" stroke="#000" stroke-width="1.0"/>
<line x1="208.25" y1="317.50" x2="208.25" y2="315.00" stroke="#000" stroke-width="1.0"/>
<line x1="208.25" y1="317.50" x2="208.25" y2="319.30" stroke="#000" stroke-width="1.0"/>
<line x1="208.25" y1="477.50" x2="208.25" y2="475.90" stroke="#000" stroke-width="1.0"/>
<line x1="219.43" y1="17.50" x2="219.43" y2="20.50" stroke="#000" stroke-width="1.0"/>
<line x1="219.43" y1="317.50" x2="219.43" y2="315.00" stroke="#000" stroke-width="1.0"/>
<line x1="219.43" y1="317.50" x2="219.43" y2="319.30" stroke="#000" stroke-width="1.0"/>
<line x1="219.43" y1="477.50" x2="219.43" y2="475.90" stroke="#000" stroke-width="1.0"/>
<line x1="230.60" y1="17.50" x2="230.60" y2="20.50" stroke="#000" stroke-width="1.0"/>
<line x1="230.60" y1="317.50" x2="230.60" y2="315.00" stroke="#000" stroke-width="1.0"/>
<line x1="230.60" y1="317.50" x2="230.60" y2="319.30" stroke="#000" stroke-width="1.0"/>
<line x1="230.60" y1="477.50" x2="230.60" y2="475.90" stroke="#000" stroke-width="1.0"/>
<line x1="241.77" y1="17.50" x2="241.77" y2="20.50" stroke="#000" stroke-width="1.0"/>
<line x1="241.77" y1="317.50" x2="241.77" y2="315.00" stroke="#000" stroke-width="1.0"/>
<line x1="241.77" y1="317.50" x2="241.77" y2="319.30" stroke="#000" stroke-width="1.0"/>
<line x1="241.77" y1="477.50" x2="241.77" y2="475.90" stroke="#000" stroke-width="1.0"/>
<line x1="252.95" y1="17.50" x2="252.95" y2="20.50" stroke="#000" stroke-width="1.0"/>
<line x1="252.95" y1="317.50" x2="252.95" y2="315.00" stroke="#000" stroke-width="1.0"/>
<line x1="252.95" y1="317.50" x2="252.95" y2="319.30" stroke="#000" stroke-width="1.0"/>
<line x1="252.95" y1="477.50" x2="252.95" y2="475.90" stroke="#000" stroke-width="1.0"/>
<line x1="264.12" y1="17.50" x2="264.12" y2="20.50" stroke="#000" stroke-width="1.0"/>
<line x1="264.12" y1="317.50" x2="264.12" y2="315.00" stroke="#000" stroke-width="1.0"/>
<line x1="264.12" y1="317.50" x2="264.12" y2="319.30" stroke="#000" stroke-width="1.0"/>
<line x1="264.12" y1="477.50" x2="264.12" y2="475.90" stroke="#000" stroke-width="1.0"/>
<line x1="275.30" y1="17.50" x2="275.30" y2="26.00" stroke="#000" stroke-width="1.0"/>
<line x1="275.30" y1="317.50" x2="275.30" y2="309.70" stroke="#000" stroke-width="1.0"/>
<line x1="275.30" y1="317.50" x2="275.30" y2="323.30" stroke="#000" stroke-width="1.0"/>
<line x1="275.30" y1="477.50" x2="275.30" y2="472.70" stroke="#000" stroke-width="1.0"/>
<line x1="286.47" y1="17.50" x2="286.47" y2="20.50" stroke="#000" stroke-width="1.0"/>
<line x1="286.47" y1="317.50" x2="286.47" y2="315.00" stroke="#000" stroke-width="1.0"/>
<line x1="286.47" y1="317.50" x2="286.47" y2="319.30" stroke="#000" stroke-width="1.0"/>
<line x1="286.47" y1="477.50" x2="286.47" y2="475.90" stroke="#000" stroke-width="1.0"/>
<line x1="297.65" y1="17.50" x2="297.65" y2="20.50" stroke="#000" stroke-width="1.0"/>
<line x1="297.65" y1="317.50" x2="297.65" y2="315.00" stroke="#000" stroke-width="1.0"/>
<line x1="297.65" y1="317.50" x2="297.65" y2="319.30" stroke="#000" stroke-width="1.0"/>
<line x1="297.65" y1="477.50" x2="297.65" y2="475.90" stroke="#000" stroke-width="1.0"/>
<line x1="308.82" y1="17.50" x2="308.82" y2="20.50" stroke="#000" stroke-width="1.0"/>
<line x1="308.82" y1="317.50" x2="308.82" y2="315.00" stroke="#000" stroke-width="1.0"/>
<line x1="308.82" y1="317.50" x2="308.82" y2="319.30" stroke="#000" stroke-width="1.0"/>
<line x1="308.82" y1="477.50" x2="308.82" y2="475.90" stroke="#000" stroke-width="1.0"/>
<line x1="320.00" y1="17.50" x2="320.00" y2="20.50" stroke="#000" stroke-width="1.0"/>
<line x1="320.00" y1="317.50" x2="320.00" y2="315.00" stroke="#000" stroke-width="1.0"/>
<line x1="320.00" y1="317.50" x2="320.00" y2="319.30" stroke="#000" stroke-width="1.0"/>
<line x1="320.00" y1="477.50" x2="320.00" y2="475.90" stroke="#000" stroke-width="1.0"/>
<line x1="331.18" y1="17.50" x2="331.18" y2="20.50" stroke="#000" stroke-width="1.0"/>
<line x1="331.18" y1="317.50" x2="331.18" y2="315.00" stroke="#000" stroke-width="1.0"/>
<line x1="331.18" y1="317.50" x2="331.18" y2="319.30" stroke="#000" stroke-width="1.0"/>
<line x1="331.18" y1="477.50" x2="331.18" y2="475.90" stroke="#000" stroke-width="1.0"/>
<line x1="342.35" y1="17.50" x2="342.35" y2="20.50" stroke="#000" stroke-width="1.0"/>
<line x1="342.35" y1="317.50" x2="342.35" y2="315.00" stroke="#000" stroke-width="1.0"/>
<line x1="342.35" y1="317.50" x2="342.35" y2="319.30" stroke="#000" stroke-width="1.0"/>
<line x1="342.35" y1="477.50" x2="342.35" y2="475.90" stroke="#000" stroke-width="1.0"/>
<line x1="353.52" y1="17.50" x2="353.52" y2="20.50" stroke="#000" stroke-width="1.0"/>
<line x1="353.52" y1="317.50" x2="353.52" y2="315.00" stroke="#000" stroke-width="1.0"/>
<line x1="353.52" y1="317.50" x2="353.52" y2="319.30" stroke="#000" stroke-width="1.0"/>
<line x1="353.52" y1="477.50" x2="353.52" y2="475.90" stroke="#000" stroke-width="1.0"/>
<line x1="364.70" y1="17.50" x2="364.70" y2="20.50" stroke="#000" stroke-width="1.0"/>
<line x1="364.70" y1="317.50" x2="364.70" y2="315.00" stroke="#000" stroke-width="1.0"/>
<line x1="364.70" y1="317.50" x2="364.70" y2="319.30" stroke="#000" stroke-width="1.0"/>
<line x1="364.70" y1="477.50" x2="364.70" y2="475.90" stroke="#000" stroke-width="1.0"/>
<rect x="45.5" y="17.5" width="326.0" height="300.0" fill="none" stroke="#000" stroke-width="1.2"/>
<rect x="45.5" y="317.5" width="326.0" height="160.0" fill="none" stroke="#000" stroke-width="1.2"/>
<line x1="44.9" y1="477.8" x2="372.1" y2="477.8" stroke="#000" stroke-width="1.7"/>
<text id="t_A" transform="translate(51.50,14.45) scale(0.9520,1)" font-size="12.6" text-anchor="start" fill="#000">7000 GeV pp</text>
<text id="t_B" transform="translate(364.75,13.80) scale(0.9500,1)" font-size="12.6" text-anchor="end" fill="#000">Jets</text>
<text id="t_C" transform="translate(76.48,42.60) scale(0.9799,1)" font-size="12.3">Pruned AK7 dijets, (p<tspan font-size="8.30" dy="-3.8">1</tspan><tspan font-size="8.30" dx="-5.15" dy="10.1">T</tspan><tspan dy="-6.3"> + p</tspan><tspan font-size="8.30" dy="-3.8">2</tspan><tspan font-size="8.30" dx="-5.15" dy="10.1">T</tspan><tspan dy="-6.3">) / 2 = 1000--1500 GeV</tspan></text>
<text id="t_L100" transform="translate(36.25,63.95) scale(1.0000,1)" font-size="11.8" text-anchor="end" fill="#000">10</text>
<text id="t_L100s" transform="translate(35.25,58.25) scale(1.0000,1)" font-size="8.0" text-anchor="start" fill="#000">2</text>
<text id="t_L10" transform="translate(40.60,139.55) scale(1.0000,1)" font-size="11.8" text-anchor="end" fill="#000">10</text>
<text id="t_L1" transform="translate(41.10,214.80) scale(1.0000,1)" font-size="11.8" text-anchor="end" fill="#000">1</text>
<text id="t_L01" transform="translate(34.00,292.00) scale(1.0000,1)" font-size="11.8" text-anchor="end" fill="#000">10</text>
<text id="t_L01s" transform="translate(32.80,286.25) scale(1.0000,1)" font-size="8.0" text-anchor="start" fill="#000">−1</text>
<text id="t_R2" transform="translate(38.55,341.75) scale(1.0000,1)" font-size="11.8" text-anchor="end" fill="#000">2</text>
<text id="t_R1" transform="translate(39.30,402.65) scale(1.0000,1)" font-size="11.8" text-anchor="end" fill="#000">1</text>
<text id="t_R05" transform="translate(38.80,462.55) scale(1.0000,1)" font-size="11.8" text-anchor="end" fill="#000">0.5</text>
<text id="t_RR2" transform="translate(373.40,340.60) scale(1.0000,1)" font-size="11.8" text-anchor="start" fill="#000">2</text>
<text id="t_RR1" transform="translate(374.20,402.50) scale(1.0000,1)" font-size="11.8" text-anchor="start" fill="#000">1</text>
<text id="t_RR05" transform="translate(373.50,462.20) scale(1.0000,1)" font-size="11.8" text-anchor="start" fill="#000">0.5</text>
<text id="t_X0" transform="translate(51.60,489.00) scale(1.0000,1)" font-size="11.8" text-anchor="middle" fill="#000">0</text>
<text id="t_X100" transform="translate(164.25,489.55) scale(1.0000,1)" font-size="11.8" text-anchor="middle" fill="#000">100</text>
<text id="t_X200" transform="translate(275.85,489.05) scale(1.0000,1)" font-size="11.8" text-anchor="middle" fill="#000">200</text>
<text id="t_XL" transform="translate(375.44,503.55) scale(1.0532,1)" font-size="12.0" text-anchor="end" fill="#000">(m_1 + m_2) / 2 [GeV]</text>
<text id="t_YL" transform="translate(15.60,209.85) rotate(-90) scale(1.0320,1)" font-size="11.8" text-anchor="start" fill="#000">1000/σ<tspan dx="9.6">2d</tspan><tspan dx="-1.6">σ)/d(m_1 + m_2) [1/GeV]</tspan></text>
<text id="t_RL" transform="translate(18.81,424.55) rotate(-90) scale(0.9638,1)" font-size="9.8" text-anchor="start" fill="#000">Ratio to CMS</text>
<text id="t_RV" transform="translate(380.60,128.05) rotate(-90) scale(1.0511,1)" font-size="9.0" text-anchor="start" fill="#777">Rivet 4.1.0, ≥ 400k events</text>
<text id="t_MC" transform="translate(381.55,314.25) rotate(-90) scale(1.0490,1)" font-size="9.0" text-anchor="start" fill="#777">mcplots.cern.ch [arXiv:2401.10621]</text>
<text id="t_REF" transform="translate(167.25,301.80) scale(1.0152,1)" font-size="7.8" text-anchor="start" fill="#999">(CMS_2013_I1224539)</text>
<rect x="73.70" y="231.10" width="5.40" height="5.40" fill="#000"/>
<line x1="63.9" y1="247.0" x2="88.3" y2="247.0" stroke="#3c9a2a" stroke-width="1.0" stroke-dasharray="2.2,2"/>
<rect x="73.75" y="244.35" width="5.30" height="5.30" fill="none" stroke="#3c9a2a" stroke-width="1.1"/>
<line x1="63.9" y1="260.0" x2="88.3" y2="260.0" stroke="#0000ff" stroke-width="1.0"/>
<polygon points="73.60,262.75 79.20,262.75 76.40,257.25" fill="#0000ff"/>
<line x1="63.9" y1="273.0" x2="88.3" y2="273.0" stroke="#ff0000" stroke-width="1.0" stroke-dasharray="1,1"/>
<polygon points="76.40,270.00 78.50,273.00 76.40,276.00 74.30,273.00" fill="#ff0000"/>
<text id="t_LG0" transform="translate(94.50,237.45) scale(0.9610,1)" font-size="9.5" text-anchor="start" fill="#000">CMS</text>
<text id="t_LG1" transform="translate(94.00,250.20) scale(0.9907,1)" font-size="9.5" text-anchor="start" fill="#000">Herwig 7.2.1 default</text>
<text id="t_LG2" transform="translate(93.75,262.90) scale(0.9952,1)" font-size="9.5" text-anchor="start" fill="#000">Pythia 8.201 default</text>
<text id="t_LG3" transform="translate(94.25,275.40) scale(0.9861,1)" font-size="9.5" text-anchor="start" fill="#000">Sherpa 2.2.9 default</text>
</svg>
</body></html>
